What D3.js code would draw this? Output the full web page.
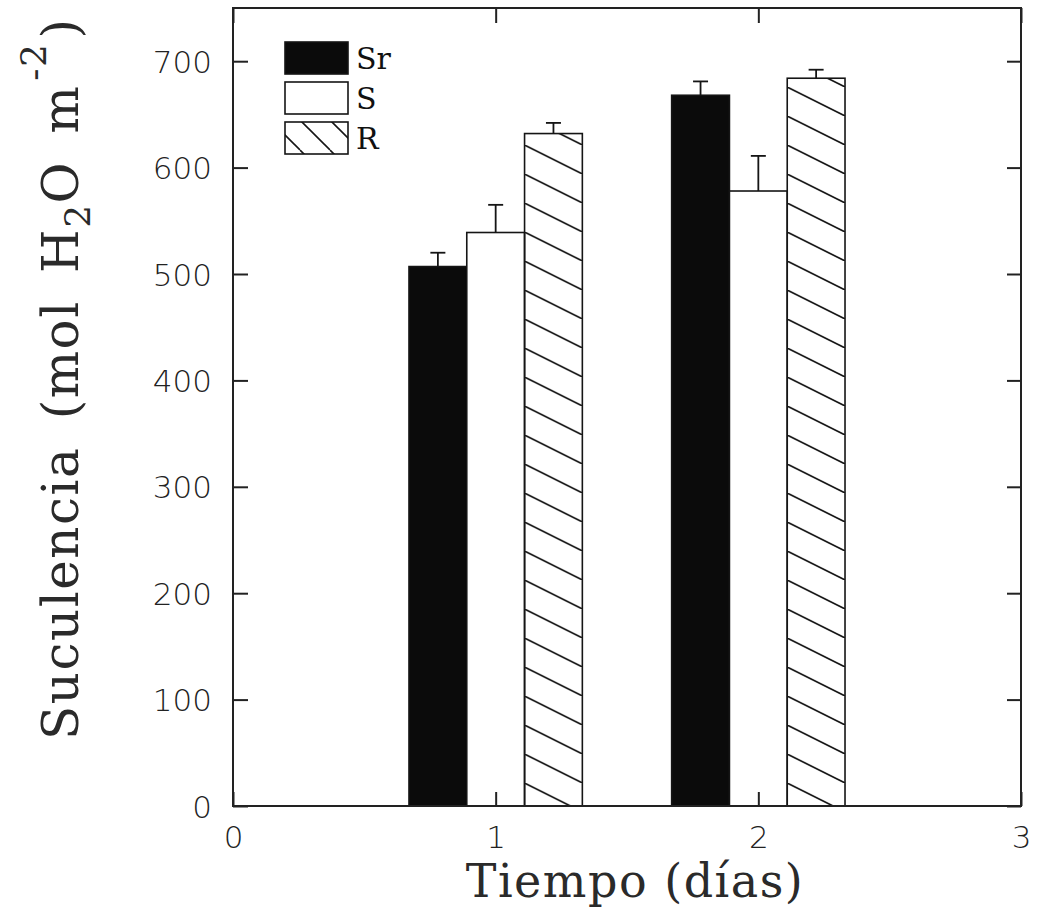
<!DOCTYPE html>
<html>
<head>
<meta charset="utf-8">
<script src="https://cdn.jsdelivr.net/npm/d3@7"></script>
<style>
  html, body { margin: 0; padding: 0; background: #fff; }
  svg { display: block; }
</style>
</head>
<body>
<svg id="chart" width="1037" height="924"></svg>
<script>
// ---- data ----
const days = [1, 2];
const seriesNames = ["Sr", "S", "R"];
const valuesSr = [507, 668];
const valuesS  = [539, 578];
const valuesR  = [632, 684];
const errSr = [13, 13];
const errS  = [26, 33];
const errR  = [10, 8];
const xTicks = [0, 1, 2, 3];
const yTicks = [0, 100, 200, 300, 400, 500, 600, 700];

const seriesValues = [valuesSr, valuesS, valuesR];
const seriesErrors = [errSr, errS, errR];

// ---- layout ----
const svg = d3.select("#chart");
const L = 233, R = 1021, T = 8, B = 806;
const x = d3.scaleLinear().domain([0, 3]).range([L, R]);
const y = d3.scaleLinear().domain([0, 750]).range([B, T]);
const barW = 0.22;           // in x units
const ink = "#151515";

const defs = svg.append("defs");

const bars = [];
seriesNames.forEach((name, si) => {
  days.forEach((d, di) => {
    bars.push({
      name, si, di, day: d,
      value: seriesValues[si][di],
      err: seriesErrors[si][di],
      x0: x(d + (si - 1) * barW - barW / 2),
      x1: x(d + (si - 1) * barW + barW / 2)
    });
  });
});

// hatch patterns anchored at each hatched bar's bottom-left
bars.filter(b => b.name === "R").forEach((b, i) => {
  const w = b.x1 - b.x0, h = 29;
  const p = defs.append("pattern")
    .attr("id", "hatch" + i)
    .attr("patternUnits", "userSpaceOnUse")
    .attr("x", b.x0).attr("y", B + 6)
    .attr("width", w).attr("height", h);
  [[0, 0], [-w, -h], [w, h]].forEach(([ox, oy]) => {
    p.append("line").attr("x1", ox).attr("y1", oy).attr("x2", ox + w).attr("y2", oy + h)
      .attr("stroke", ink).attr("stroke-width", 1.6);
  });
  b.pattern = "url(#hatch" + i + ")";
});

// legend hatch
const lp = defs.append("pattern")
  .attr("id", "hatchLegend")
  .attr("patternUnits", "userSpaceOnUse")
  .attr("x", 0).attr("y", 0)
  .attr("width", 30).attr("height", 30);
[[0, 0], [-30, 0], [30, 0]].forEach(([ox, oy]) => {
  lp.append("line").attr("x1", ox).attr("y1", oy).attr("x2", ox + 30).attr("y2", oy + 30)
    .attr("stroke", ink).attr("stroke-width", 1.6);
});

function fillFor(b) {
  if (b.name === "Sr") return "#0b0b0b";
  if (b.name === "S") return "#fff";
  return b.pattern;
}

// ---- bars ----
svg.append("g").selectAll("rect.bar").data(bars).join("rect")
  .attr("class", "bar")
  .attr("x", d => d.x0)
  .attr("y", d => y(d.value))
  .attr("width", d => d.x1 - d.x0)
  .attr("height", d => y(0) - y(d.value))
  .attr("fill", d => fillFor(d))
  .attr("stroke", ink)
  .attr("stroke-width", 1.6);

// ---- error bars (upper only) ----
const capW = 15;
const gErr = svg.append("g").attr("stroke", ink).attr("stroke-width", 1.8);
gErr.selectAll("line.ev").data(bars).join("line")
  .attr("class", "ev")
  .attr("x1", d => (d.x0 + d.x1) / 2).attr("x2", d => (d.x0 + d.x1) / 2)
  .attr("y1", d => y(d.value)).attr("y2", d => y(d.value + d.err));
gErr.selectAll("line.cap").data(bars).join("line")
  .attr("class", "cap")
  .attr("x1", d => (d.x0 + d.x1) / 2 - capW / 2).attr("x2", d => (d.x0 + d.x1) / 2 + capW / 2)
  .attr("y1", d => y(d.value + d.err)).attr("y2", d => y(d.value + d.err));

// ---- frame & axes ----
svg.append("rect")
  .attr("x", L).attr("y", T).attr("width", R - L).attr("height", B - T)
  .attr("fill", "none").attr("stroke", "#222").attr("stroke-width", 2);

const tickFont = "'DejaVu Sans', sans-serif";

const gYL = svg.append("g").attr("transform", `translate(${L},0)`)
  .call(d3.axisLeft(y).tickValues(yTicks).tickSize(-15).tickPadding(21).tickFormat(d3.format("d")));
const gYR = svg.append("g").attr("transform", `translate(${R},0)`)
  .call(d3.axisRight(y).tickValues(yTicks).tickSize(-14).tickFormat(""));
const gXB = svg.append("g").attr("transform", `translate(0,${B})`)
  .call(d3.axisBottom(x).tickValues(xTicks).tickSize(-14).tickPadding(19).tickFormat(d3.format("d")));
const gXT = svg.append("g").attr("transform", `translate(0,${T})`)
  .call(d3.axisTop(x).tickValues(xTicks).tickSize(-15).tickFormat(""));

[gYL, gYR, gXB, gXT].forEach(g => {
  g.select(".domain").remove();
  g.selectAll(".tick line").attr("stroke", "#222").attr("stroke-width", 2);
  g.selectAll(".tick text")
    .attr("font-family", tickFont)
    .attr("font-weight", 200)
    .attr("font-size", 31)
    .attr("fill", "#222");
});
gYL.selectAll(".tick text").attr("dy", "0.36em");
gXB.selectAll(".tick text").attr("dy", "0.74em");

// ---- axis titles ----
const titleFont = "'DejaVu Serif', serif";
svg.append("text")
  .attr("x", (L + R) / 2 + 8).attr("y", 897)
  .attr("text-anchor", "middle")
  .attr("font-family", titleFont)
  .attr("font-size", 46)
  .attr("letter-spacing", 1.5)
  .attr("fill", "#2a2a2a")
  .text("Tiempo (días)");

const yt = svg.append("text")
  .attr("transform", "translate(78,740) rotate(-90)")
  .attr("text-anchor", "start")
  .attr("font-family", titleFont)
  .attr("font-size", 50)
  .attr("letter-spacing", 1.5)
  .attr("word-spacing", 10)
  .attr("fill", "#2a2a2a");
yt.append("tspan").text("Suculencia (mol H");
yt.append("tspan").attr("font-size", 36).attr("dy", 12).text("2");
yt.append("tspan").attr("dy", -12).text("O m");
yt.append("tspan").attr("font-size", 36).attr("dx", 4).attr("dy", -32).text("-2");
yt.append("tspan").attr("dx", 4).attr("dy", 32).text(")");

// ---- legend ----
const legendRows = seriesNames.map((name, i) => ({ name, i }));
const lx = 285, ly = 42, lw = 63, lh = 32, lstep = 40;
const legend = svg.append("g");
legend.selectAll("rect").data(legendRows).join("rect")
  .attr("x", lx).attr("y", d => ly + d.i * lstep)
  .attr("width", lw).attr("height", lh)
  .attr("fill", d => d.name === "Sr" ? "#0b0b0b" : d.name === "S" ? "#fff" : "url(#hatchLegend)")
  .attr("stroke", ink).attr("stroke-width", 1.6);
legend.selectAll("text").data(legendRows).join("text")
  .attr("x", lx + lw + 8).attr("y", d => ly + d.i * lstep + 27)
  .attr("font-family", titleFont)
  .attr("font-size", 30)
  .attr("fill", "#111")
  .text(d => d.name);
</script>
</body>
</html>
